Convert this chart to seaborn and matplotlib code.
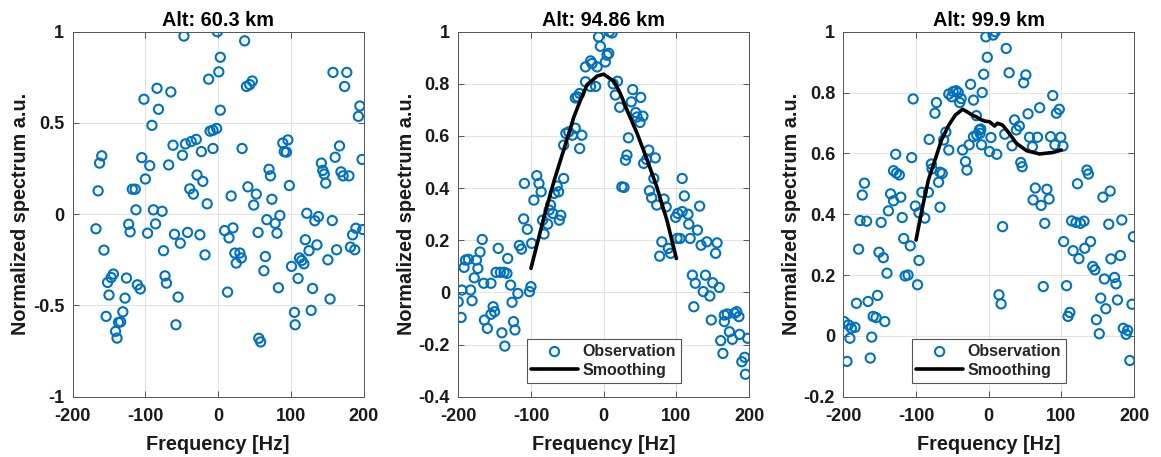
import numpy as np
import pandas as pd
import matplotlib
matplotlib.use("Agg")
import matplotlib.pyplot as plt
import seaborn as sns

# ---------------- data ----------------
titles = ["Alt: 60.3 km", "Alt: 94.86 km", "Alt: 99.9 km"]

f1 = [-47, -1, 3, 1, -13, -84, -65, -102, -82, -91, 3, -11, -7, -2, -62, -45, -37, -30, -49, -23, -7,
      -160, -163, -105, -94, -68, -165, -118, -114, -100, -39, -34, -29, -21, -15, -113, -89, -77,
      -168, -123, -121, -97, -86, -60, -42, -25, -52, -157, -75, -18, -144, -147, -152, -126, -111,
      -107, -73, -71, -150, -128, -55, -154, -131, -137, -134, -141, -139, -58,
      36.5, 39, 43.5, 47, 33, 158, 177, 174, 195, 193, 89, 96, 91, 94, 198, 167, 161, 142, 144, 146,
      148, 169, 172, 180, 70, 72, 98, 41, 52.5, 49, 18, 74, 122, 133, 138, 157, 67, 78.5, 85, 81, 55,
      9, 20.5, 15, 189.5, 199, 185, 120, 136, 125, 163, 182, 188, 151, 23, 30, 25, 32, 65, 63, 101,
      112, 115, 118, 110, 83, 130, 154, 13, 105, 106, 128, 56, 58.5]
v1 = [0.976, 1.0, 0.86, 0.78, 0.74, 0.69, 0.67, 0.63, 0.575, 0.487, 0.57, 0.455, 0.46, 0.47, 0.378,
      0.385, 0.398, 0.41, 0.323, 0.343, 0.36, 0.32, 0.28, 0.31, 0.266, 0.27, 0.128, 0.137, 0.137,
      0.193, 0.139, 0.11, 0.215, 0.18, 0.057, 0.024, 0.024, 0.016, -0.08, -0.055, -0.097, -0.104,
      -0.053, -0.11, -0.10, -0.113, -0.159, -0.197, -0.2, -0.223, -0.328, -0.347, -0.374, -0.35,
      -0.387, -0.41, -0.338, -0.378, -0.443, -0.46, -0.454, -0.56, -0.535, -0.593, -0.59, -0.642,
      -0.679, -0.606,
      0.95, 0.70, 0.71, 0.73, 0.36, 0.777, 0.777, 0.70, 0.593, 0.536, 0.39, 0.407, 0.343, 0.34, 0.30,
      0.374, 0.312, 0.28, 0.24, 0.22, 0.17, 0.232, 0.21, 0.21, 0.246, 0.21, 0.157, 0.15, 0.11, 0.05,
      0.10, 0.082, 0.005, -0.036, -0.013, -0.035, -0.03, -0.05, -0.007, -0.104, -0.1, -0.09, -0.075,
      -0.13, -0.077, -0.084, -0.113, -0.14, -0.168, -0.2, -0.195, -0.18, -0.195, -0.25, -0.213,
      -0.213, -0.268, -0.24, -0.232, -0.31, -0.286, -0.24, -0.254, -0.272, -0.352, -0.403, -0.407,
      -0.465, -0.427, -0.538, -0.606, -0.527, -0.68, -0.70]

f2 = [-7, -4.5, -18, -16, -25, -9, -25, -18, -11, -39, -36, -33, -52, -48, -43, -39, -30, -55, -33,
      -92, -89, -86, -109, -96, -55, -64, -68, -62, -73, -75, -70, -84, -77, -82, -59, -61, -110,
      -105, -99, -116, -113, -167, -170, -190, -186, -192, -175, -173, -178, -165, -155, -145, -132,
      -148, -142, -137, -133, -128, -195, -183, -200, -181, -196, -118, -126, -102, -100, -152, -150,
      -155, -164, -160, -124, -122, -140, -136,
      8, 11.5, 4.6, 7, 2.3, 13, 19, 16, 22, 40, 38, 51, 44, 54, 46, 50, 34, 32, 30, 62, 59, 71, 55,
      25, 28, 69, 63, 66, 73, 83, 86, 108, 111, 132, 99, 102, 108, 116, 117, 129, 119, 80, 77, 89, 92,
      101, 105, 134, 142, 156, 154, 122, 126, 140, 137, 146, 150, 159, 124, 148, 166, 170, 180, 183,
      186, 166, 173, 177, 187, 198, 161, 164, 194, 190, 195]
v2 = [0.98, 0.944, 0.888, 0.878, 0.865, 0.865, 0.808, 0.79, 0.79, 0.746, 0.75, 0.763, 0.61, 0.616,
      0.603, 0.63, 0.603, 0.565, 0.552, 0.448, 0.418, 0.386, 0.418, 0.354, 0.437, 0.408, 0.38, 0.386,
      0.335, 0.316, 0.303, 0.277, 0.262, 0.224, 0.296, 0.277, 0.282, 0.242, 0.188, 0.18, 0.166, 0.203,
      0.155, 0.124, 0.127, 0.096, 0.124, 0.092, 0.056, 0.035, 0.035, 0.169, 0.13, 0.077, 0.077, 0.077,
      0.073, 0.028, 0.009, 0.009, -0.036, -0.032, -0.096, -0.004, -0.038, 0.003, 0.022, -0.055,
      -0.074, -0.084, -0.106, -0.138, -0.112, -0.144, -0.155, -0.206,
      1.0, 0.995, 0.91, 0.917, 0.884, 0.80, 0.81, 0.757, 0.71, 0.778, 0.731, 0.748, 0.69, 0.676,
      0.673, 0.652, 0.593, 0.527, 0.507, 0.546, 0.51, 0.516, 0.495, 0.405, 0.403, 0.437, 0.39, 0.363,
      0.335, 0.358, 0.328, 0.437, 0.37, 0.331, 0.288, 0.303, 0.31, 0.3, 0.262, 0.239, 0.207, 0.194,
      0.139, 0.169, 0.15, 0.207, 0.207, 0.181, 0.194, 0.19, 0.15, 0.066, 0.035, 0.066, 0.003, -0.014,
      0.037, 0.019, -0.055, -0.106, -0.087, -0.083, -0.08, -0.074, -0.093, -0.112, -0.151, -0.18,
      -0.161, -0.176, -0.185, -0.234, -0.249, -0.266, -0.314]

f3 = [-25, -9, -55, -49, -45, -42, -51, -38, -40, -21, -104, -72, -74, -17, -82, -59, -62, -55, -36,
      -32, -30, -27, -21, -16.5, -13, -11, -10, -12, -128, -106, -131, -127, -123, -79, -78, -67, -64,
      -171, -174, -135, -131, -121, -92, -83, -69, -101, -96, -88, -67, -138, -119, -177, -168, -148,
      -179, -151, -145, -117, -108, -140, -96, -115, -111, -98, -182, -166, -153, -159, -155, -143,
      -199, -193, -189, -184, -191, -161, -195, -163,
      -4, 6, 9, 24, -2, -7, 28, 51, 48, 88, 70, 97, 93, 54, 35.5, 42, 38, 3, 1, 11, 22, 32, 56, 67,
      60, 85, 99, 91, 102, 44, 46, 135, 137, 122, 64, 80, 61, 83, 72, 167, 157, 19, 77, 114, 120, 126,
      131, 165, 183, 199, 103, 116, 124, 140, 132, 143, 146, 168, 181, 159, 173, 175, 75, 107, 14, 17,
      154, 161, 177, 197, 111.5, 109, 148, 152, 185, 191, 189, 194]
v3 = [0.827, 0.80, 0.795, 0.803, 0.806, 0.80, 0.786, 0.78, 0.767, 0.775, 0.779, 0.767, 0.732, 0.724,
      0.646, 0.67, 0.644, 0.611, 0.611, 0.573, 0.545, 0.628, 0.655, 0.66, 0.677, 0.68, 0.628, 0.666,
      0.597, 0.586, 0.543, 0.535, 0.529, 0.565, 0.549, 0.538, 0.534, 0.502, 0.463, 0.467, 0.444,
      0.456, 0.472, 0.472, 0.505, 0.427, 0.405, 0.387, 0.423, 0.411, 0.389, 0.379, 0.377, 0.373,
      0.285, 0.275, 0.257, 0.32, 0.296, 0.206, 0.248, 0.197, 0.2, 0.168, 0.107, 0.113, 0.133, 0.064,
      0.06, 0.047, 0.047, 0.036, 0.025, 0.028, -0.008, -0.004, -0.084, -0.073,
      0.983, 0.989, 1.0, 0.945, 0.916, 0.86, 0.865, 0.858, 0.832, 0.79, 0.75, 0.745, 0.732, 0.73,
      0.71, 0.69, 0.677, 0.652, 0.606, 0.597, 0.663, 0.625, 0.653, 0.653, 0.622, 0.655, 0.653, 0.628,
      0.624, 0.57, 0.556, 0.545, 0.532, 0.50, 0.486, 0.482, 0.447, 0.45, 0.429, 0.476, 0.456, 0.359,
      0.37, 0.378, 0.373, 0.37, 0.377, 0.367, 0.381, 0.326, 0.31, 0.28, 0.254, 0.31, 0.288, 0.228,
      0.217, 0.253, 0.264, 0.187, 0.192, 0.171, 0.162, 0.165, 0.135, 0.105, 0.124, 0.089, 0.118,
      0.104, 0.077, 0.064, 0.053, 0.007, 0.025, 0.018, 0.005, -0.081]

sf2 = [-100, -82, -68, -55, -41, -32, -23, -9, 0, 14, 23, 32, 46, 60, 73, 87, 100]
sv2 = [0.092, 0.29, 0.43, 0.546, 0.673, 0.737, 0.795, 0.83, 0.837, 0.81, 0.763, 0.70, 0.61, 0.507,
       0.405, 0.277, 0.13]

sf3 = [-100, -92, -83, -74, -65, -55, -46, -36, -30, -23, -17, -10, -5, 1, 8, 12, 19, 28, 38, 52,
       70, 88, 100]
sv3 = [0.315, 0.414, 0.513, 0.578, 0.644, 0.693, 0.726, 0.745, 0.737, 0.726, 0.72, 0.71, 0.706,
       0.704, 0.69, 0.699, 0.693, 0.666, 0.633, 0.609, 0.598, 0.603, 0.611]

xticks = [-200, -100, 0, 100, 200]
xticklabels = ["-200", "-100", "0", "100", "200"]
yticks1 = [-1, -0.5, 0, 0.5, 1]
yticklabels1 = ["-1", "-0.5", "0", "0.5", "1"]
yticks2 = [-0.4, -0.2, 0, 0.2, 0.4, 0.6, 0.8, 1]
yticklabels2 = ["-0.4", "-0.2", "0", "0.2", "0.4", "0.6", "0.8", "1"]
yticks3 = [-0.2, 0, 0.2, 0.4, 0.6, 0.8, 1]
yticklabels3 = ["-0.2", "0", "0.2", "0.4", "0.6", "0.8", "1"]

# ---------------- style ----------------
sns.set_theme(style="white")
plt.rcParams["font.family"] = ["Liberation Sans", "DejaVu Sans"]
plt.rcParams["font.weight"] = "bold"

BLUE = "#0072BD"
TXT = "#1a1a1a"

fig = plt.figure(figsize=(11.61, 4.57), dpi=100)
lefts = [0.0626, 0.3947, 0.7264]
width = 0.2505
bottom, height = 0.132, 0.7986

panels = [
    (f1, v1, None, None, yticks1, yticklabels1, (-1, 1)),
    (f2, v2, sf2, sv2, yticks2, yticklabels2, (-0.4, 1)),
    (f3, v3, sf3, sv3, yticks3, yticklabels3, (-0.2, 1)),
]

for i, (fx, vy, sfx, svy, yt, ytl, ylim) in enumerate(panels):
    ax = fig.add_axes([lefts[i], bottom, width, height])
    df = pd.DataFrame({"f": fx, "v": vy})
    sns.scatterplot(data=df, x="f", y="v", ax=ax, marker="o", s=44,
                    facecolors="none", edgecolor=BLUE, linewidth=1.5,
                    label="Observation" if sfx is not None else None, zorder=3)
    for coll in ax.collections:
        coll.set_facecolor("none")
        coll.set_edgecolor(BLUE)
        coll.set_linewidth(1.5)
    if sfx is not None:
        sdf = pd.DataFrame({"f": sfx, "v": svy})
        sns.lineplot(data=sdf, x="f", y="v", ax=ax, color="black", linewidth=2.6,
                     label="Smoothing", sort=False, zorder=4)
    ax.set_xlim(-200, 200)
    ax.set_ylim(*ylim)
    ax.set_xticks(xticks)
    ax.set_xticklabels(xticklabels)
    ax.set_yticks(yt)
    ax.set_yticklabels(ytl)
    ax.grid(True, color="#e3e3e3", linewidth=0.8)
    ax.set_axisbelow(True)
    for sp in ax.spines.values():
        sp.set_visible(True)
        sp.set_color("#555555")
        sp.set_linewidth(0.7)
    ax.tick_params(direction="in", length=4, width=0.7, color="#555555",
                   labelsize=13, labelcolor=TXT, top=True, right=True,
                   bottom=True, left=True)
    ax.tick_params(axis="x", pad=8)
    ax.tick_params(axis="y", pad=6)
    for lab in ax.get_xticklabels() + ax.get_yticklabels():
        lab.set_fontweight("bold")
    ax.set_xlabel("Frequency [Hz]", fontsize=14.3, fontweight="bold", color=TXT, labelpad=7)
    ax.set_ylabel("Normalized spectrum a.u.", fontsize=14.3, fontweight="bold", color=TXT,
                  labelpad=2)
    ax.set_title(titles[i], fontsize=14.3, fontweight="bold", color="black", pad=4)
    if sfx is not None:
        leg = ax.legend(loc="lower center", bbox_to_anchor=(0.5, 0.03),
                        frameon=True, fancybox=False, handlelength=2.9, handletextpad=0.3,
                        borderpad=0.3, labelspacing=0.25, borderaxespad=0.2,
                        prop={"weight": "bold", "size": 11.5})
        leg.get_frame().set_edgecolor("#555555")
        leg.get_frame().set_linewidth(0.8)
        leg.get_frame().set_alpha(1.0)
    else:
        if ax.get_legend() is not None:
            ax.get_legend().remove()

fig.savefig("out.png", dpi=100)
